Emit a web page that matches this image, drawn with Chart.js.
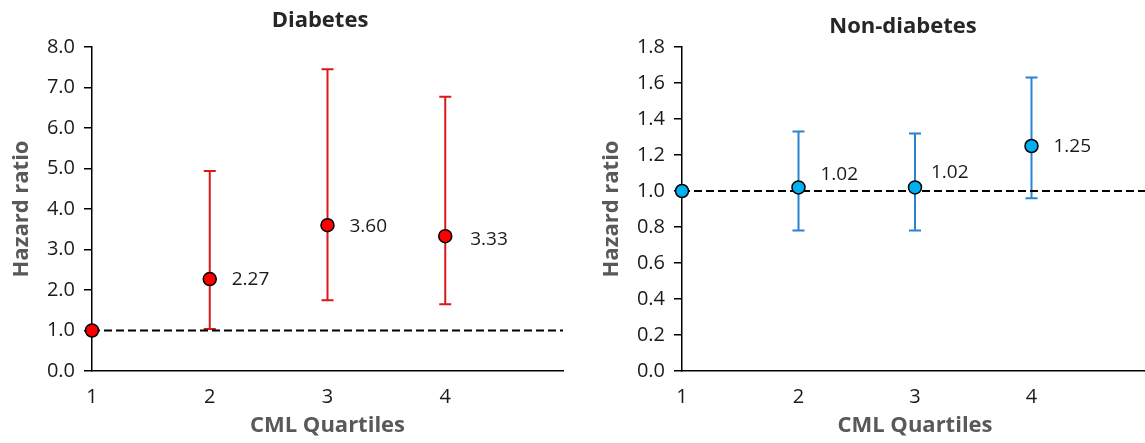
<!DOCTYPE html>
<html><head><meta charset="utf-8">
<script src="https://cdn.jsdelivr.net/npm/chart.js@4"></script>
<style>
html,body{margin:0;padding:0;background:#fff;overflow:hidden;width:1145px;height:443px;position:relative;}
#w1{position:absolute;left:0;top:0;width:575px;height:443px;}
#w2{position:absolute;left:590px;top:0;width:570px;height:443px;}
</style></head><body>
<div id="w1"><canvas id="c1"></canvas></div>
<div id="w2"><canvas id="c2"></canvas></div>
<script>
// ---- data ----
const quartiles = [1, 2, 3, 4];
const xTickLabels = ['1', '2', '3', '4'];
const xRange = [1, 5];
const referenceHR = 1.0;

const diabetesHR    = [1.00, 2.27, 3.60, 3.33];
const diabetesLower = [null, 1.04, 1.75, 1.65];
const diabetesUpper = [null, 4.94, 7.45, 6.77];
const diabetesYTicks = [0, 1, 2, 3, 4, 5, 6, 7, 8];

const nonDiabetesHR    = [1.00, 1.02, 1.02, 1.25];
const nonDiabetesLower = [null, 0.78, 0.78, 0.96];
const nonDiabetesUpper = [null, 1.33, 1.32, 1.63];
const nonDiabetesYTicks = [0, 0.2, 0.4, 0.6, 0.8, 1.0, 1.2, 1.4, 1.6, 1.8];

const FONT = "'Open Sans', 'Liberation Sans', sans-serif";

const errorBarPlugin = {
  id: 'errorBars',
  beforeDatasetsDraw(chart) {
    const o = chart.options.plugins.errorBars;
    const xs = chart.scales.x, ys = chart.scales.y, ctx = chart.ctx;
    ctx.save();
    ctx.strokeStyle = o.color; ctx.lineWidth = o.width;
    o.lower.forEach((lo, i) => {
      const hi = o.upper[i];
      if (lo == null || hi == null) return;
      const px = xs.getPixelForValue(quartiles[i]);
      const pl = ys.getPixelForValue(lo), ph = ys.getPixelForValue(hi);
      ctx.beginPath();
      ctx.moveTo(px, pl); ctx.lineTo(px, ph);
      ctx.moveTo(px - o.cap, pl); ctx.lineTo(px + o.cap, pl);
      ctx.moveTo(px - o.cap, ph); ctx.lineTo(px + o.cap, ph);
      ctx.stroke();
    });
    ctx.restore();
  }
};

const labelPlugin = {
  id: 'pointLabels',
  afterDatasetsDraw(chart) {
    const o = chart.options.plugins.pointLabels;
    const xs = chart.scales.x, ys = chart.scales.y, ctx = chart.ctx;
    ctx.save();
    ctx.font = o.font; ctx.fillStyle = '#1a1a1a';
    ctx.textAlign = 'left'; ctx.textBaseline = 'middle';
    o.values.forEach((v, i) => {
      if (!o.show[i]) return;
      const px = xs.getPixelForValue(quartiles[i]);
      const py = ys.getPixelForValue(v);
      ctx.fillText(v.toFixed(2), px + o.offsets[i][0], py + o.offsets[i][1]);
    });
    ctx.restore();
  }
};

const titlePlugin = {
  id: 'panelTitle',
  afterDraw(chart) {
    const o = chart.options.plugins.panelTitle;
    const ctx = chart.ctx;
    ctx.save();
    ctx.font = "bold 22px " + FONT; ctx.fillStyle = '#262626';
    ctx.textAlign = 'center'; ctx.textBaseline = 'middle';
    ctx.fillText(o.text, o.x, o.y);
    ctx.restore();
  }
};

function makeChart(id, cfg) {
  return new Chart(document.getElementById(id), {
    type: 'scatter',
    data: {
      datasets: [
        {
          data: cfg.hr.map((v, i) => ({x: quartiles[i], y: v})),
          backgroundColor: cfg.fill, borderColor: '#000', borderWidth: 1.5,
          pointRadius: 6.5, pointHoverRadius: 6.5, clip: false, order: 0
        },
        {
          type: 'line',
          data: [{x: xRange[0], y: referenceHR}, {x: xRange[1], y: referenceHR}],
          borderColor: '#000', borderWidth: 2, borderDash: [8, 4],
          pointRadius: 0, fill: false, clip: false, order: 1
        }
      ]
    },
    options: {
      responsive: true, maintainAspectRatio: false, animation: false,
      layout: {padding: {top: 47, right: 12, left: 0, bottom: 0}},
      plugins: {
        legend: {display: false}, tooltip: {enabled: false}, title: {display: false},
        errorBars: {lower: cfg.lower, upper: cfg.upper, color: cfg.barColor, width: 2, cap: 6},
        pointLabels: {values: cfg.hr, show: cfg.hr.map((v, i) => i > 0), offsets: cfg.labelOffsets, font: "19px " + FONT},
        panelTitle: {text: cfg.title, x: cfg.titleX, y: cfg.titleY}
      },
      scales: {
        x: {
          type: 'linear', min: xRange[0], max: xRange[1],
          afterBuildTicks: s => { s.ticks = quartiles.map(v => ({value: v})); },
          afterFit: s => { s.height = 72; },
          ticks: {callback: (v, i) => xTickLabels[i], color: '#1a1a1a', font: {family: FONT, size: 20}, padding: 14},
          grid: {display: false, drawTicks: false},
          border: {display: true, color: '#000', width: 1.5},
          title: {display: true, text: 'CML Quartiles', color: '#595959', font: {family: FONT, size: 22, weight: 'bold'}, padding: {top: 0, bottom: 4}}
        },
        y: {
          type: 'linear', min: cfg.yTicks[0], max: cfg.yTicks[cfg.yTicks.length - 1],
          afterBuildTicks: s => { s.ticks = cfg.yTicks.map(v => ({value: v})); },
          afterFit: s => { s.width = 92; },
          ticks: {callback: v => v.toFixed(1), color: '#1a1a1a', font: {family: FONT, size: 20}, padding: 9},
          grid: {display: true, drawOnChartArea: false, drawTicks: true, tickLength: 8, color: '#000', lineWidth: 1.5},
          border: {display: true, color: '#000', width: 1.5},
          title: {display: true, text: 'Hazard ratio', color: '#595959', font: {family: FONT, size: 22, weight: 'bold'}, padding: {top: 9, bottom: 0}}
        }
      }
    },
    plugins: [errorBarPlugin, labelPlugin, titlePlugin]
  });
}

makeChart('c1', {
  hr: diabetesHR, lower: diabetesLower, upper: diabetesUpper, yTicks: diabetesYTicks,
  fill: '#FF0000', barColor: '#D91A1A', title: 'Diabetes', titleX: 320, titleY: 21,
  labelOffsets: [[0, 0], [22, 1], [22, 1], [25, 3]]
});
makeChart('c2', {
  hr: nonDiabetesHR, lower: nonDiabetesLower, upper: nonDiabetesUpper, yTicks: nonDiabetesYTicks,
  fill: '#00B0F0', barColor: '#2A82D2', title: 'Non-diabetes', titleX: 313, titleY: 27,
  labelOffsets: [[0, 0], [22, -13], [16, -15], [22, 1]]
});
</script>
</body></html>
